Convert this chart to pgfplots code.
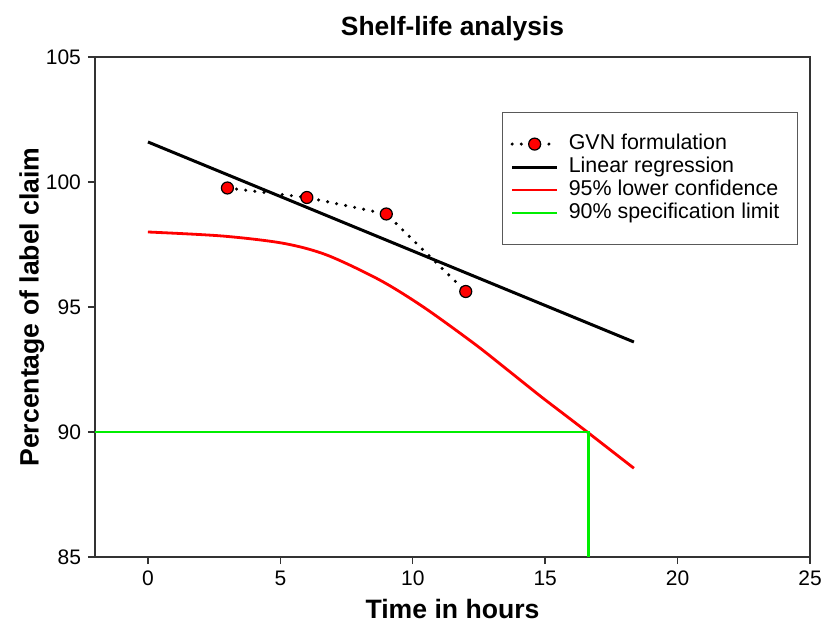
\documentclass[border=0pt]{standalone}
\usepackage{fontspec}
\setmainfont{Liberation Sans}
\usepackage{pgfplots}
\pgfplotsset{compat=1.18}
\usetikzlibrary{calc}

\definecolor{axgray}{HTML}{333333}
\definecolor{specgreen}{HTML}{00EE00}

\begin{document}
\begin{tikzpicture}
\begin{axis}[
    name=ax,
    scale only axis,
    width=357.5pt, height=250pt,
    xmin=-2, xmax=25, ymin=85, ymax=105,
    xtick={0,5,10,15,20,25},
    ytick={85,90,95,100,105},
    axis line style={axgray, line width=0.7pt},
    tick style={axgray, line width=0.7pt},
    tick align=outside,
    major tick length=3.5pt,
    xtick pos=bottom, ytick pos=left,
    /pgf/number format/assume math mode=true,
    ticklabel style={font=\fontsize{10.5}{12}\selectfont},
    title={\textbf{Shelf-life analysis}},
    title style={font=\fontsize{13.2}{15}\selectfont, at={(0.5,1)}, anchor=base, yshift=4.8pt},
    xlabel={\textbf{Time in hours}},
    ylabel={\textbf{Percentage of label claim}},
    label style={font=\fontsize{13.3}{15}\selectfont},
    ylabel style={yshift=-6pt},
    legend cell align=left,
    legend style={at={(0.569,0.89)}, anchor=north west, draw=gray!70!black,
        line width=0.6pt, inner xsep=4pt, inner ysep=10pt,
        font=\fontsize{10.7}{12}\selectfont, row sep=0pt,
        nodes={text height=8pt, text depth=3pt, inner ysep=0.25pt, inner xsep=5pt}},
    legend image code/.code={\draw[mark repeat=2,mark phase=2,#1]
        plot coordinates {(0pt,0pt) (11.25pt,0pt) (22.5pt,0pt)};},
]
\addplot[black, line width=1.7pt, line cap=round, dash pattern=on 0pt off 4.6pt,
    mark=*, mark size=3pt, mark options={solid, fill=red, draw=black, line width=0.6pt}]
    coordinates {(3,99.76) (6,99.38) (9,98.72) (12,95.62)};
\addlegendentry{GVN formulation}
\addplot[black, line width=1.5pt] coordinates {(0,101.6) (18.35,93.6)};
\addlegendentry{Linear regression}
\addplot[red, line width=1.4pt, smooth] coordinates {
    (0,98.0) (2.8,97.84) (5.1,97.55) (6.75,97.08) (8.75,96.08) (10.4,95.0)
    (12.3,93.55) (13.5,92.55) (14.8,91.45) (15.7,90.72) (16.65,89.95)
    (17.5,89.25) (18.35,88.55)};
\addlegendentry{95\% lower confidence}
\addplot[specgreen, line width=1.4pt] coordinates {(-2,90) (16.65,90) (16.65,85)};
\addlegendentry{90\% specification limit}
\end{axis}
\pgfresetboundingbox
\path ($(ax.south west)+(-47.5pt,-33.5pt)$) rectangle ($(ax.north east)+(5.5pt,28.5pt)$);
\end{tikzpicture}
\end{document}
